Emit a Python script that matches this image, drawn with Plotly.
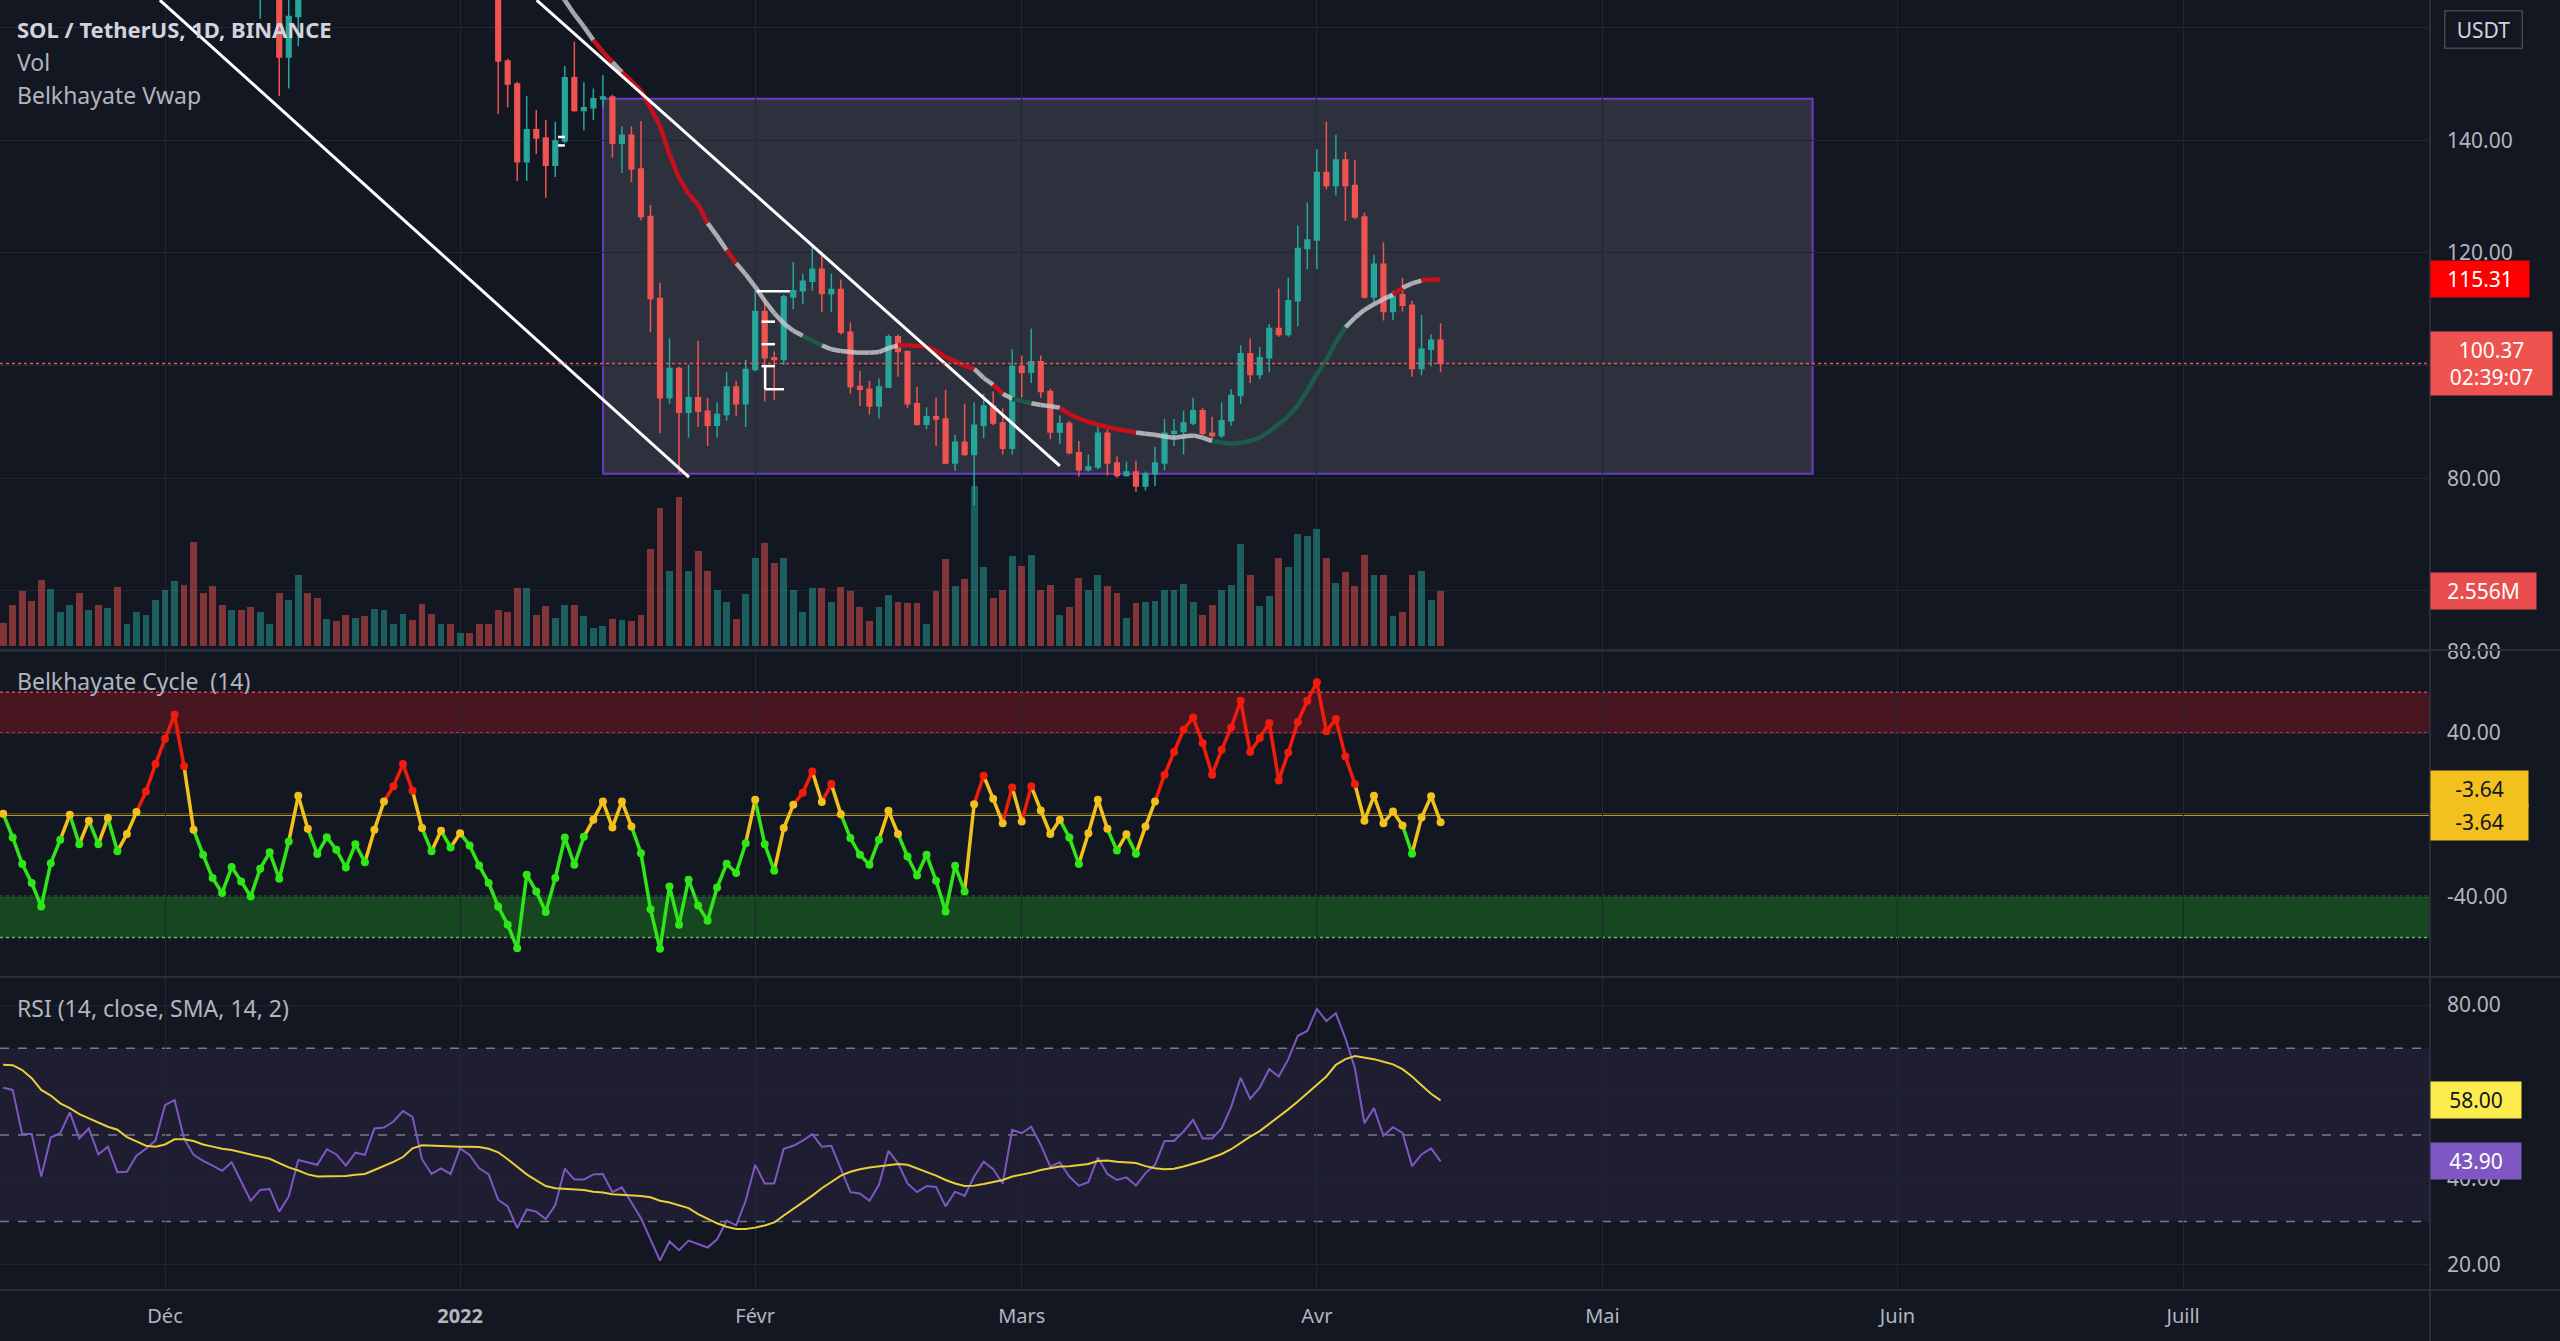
import plotly.graph_objects as go
import pandas as pd

# ---------------- data ----------------
dates = pd.date_range("2021-11-14", periods=152, freq="D")

opens = [236, 231, 228, 212, 210, 196, 213, 216, 225, 213, 217, 206, 210, 193, 197, 203, 208,
         215, 232, 235, 226, 204, 196, 190, 186, 192, 180, 171, 178, 180, 154.8, 162, 176, 172, 169, 173, 171,
         168.5, 180, 177, 186, 188, 193, 195, 193, 176, 171, 176,
         170, 178, 176, 170, 168, 154.1, 150.0, 136.2, 141.9, 140.4, 135.6, 139.9, 151.1, 145.3, 145.8, 147.4,
         147.7, 139.5, 140.9, 134.9, 126.5, 111.9, 94.3, 99.5, 91.7, 94.3, 91.9, 89.4, 91.3, 96.2, 93.2,
         99.3, 109.6, 101.4, 101.1, 112.2, 113.3, 115.0, 117.1, 112.8, 113.5, 105.9, 96.3, 95.8, 92.8, 96.2,
         105.1, 102.5, 93.2, 89.6, 90.9, 90.5, 82.7, 86.4, 84.2, 89.4, 92.8, 89.8, 85.3,
         99.9, 98.8, 100.7, 95.4, 88.2, 89.7, 84.5, 81.5, 82.0, 88.0, 82.7, 80.5, 81.1, 78.6, 80.8, 82.7,
         88.0, 88.3, 89.8, 92.0, 88.0, 87.6, 90.2, 94.7, 102.1, 98.4, 101.4, 106.6, 105.5, 111.5, 120.8,
         122.3, 134.3, 132.0, 136.5, 132.0, 126.4, 112.2, 118.0, 109.6, 112.6, 110.7, 99.5, 102.9, 104.5]
highs = [241, 238, 230, 220, 216, 216, 220, 229, 227, 222, 219, 214, 213, 201, 205, 214, 218,
         236, 240, 238, 228, 210, 199, 196, 196, 194, 188, 181, 185, 182, 167.5, 178, 182, 176, 176, 180, 174,
         182, 184, 188, 193, 196, 199, 203, 194, 181, 178, 181,
         180, 180, 178, 174, 171, 154.5, 150.4, 147.9, 145.4, 143.6, 143.3, 153.2, 157.5, 150.3, 149.2, 151.6,
         148.1, 142.5, 142.5, 143.4, 128.5, 114.7, 104.8, 99.8, 100.1, 104.4, 94.3, 93.5, 98.8, 97.3, 101.0,
         113.3, 111.9, 102.5, 112.6, 118.4, 116.3, 121.6, 120.0, 116.3, 115.3, 107.7, 99.1, 97.3, 97.7, 105.5,
         105.5, 102.6, 96.2, 92.6, 94.3, 95.7, 87.7, 93.2, 93.5, 95.0, 95.4, 92.4, 102.9,
         101.8, 106.6, 101.8, 95.9, 91.2, 90.1, 86.6, 84.2, 89.4, 88.7, 83.9, 82.9, 83.1, 81.2, 85.6, 90.5,
         90.5, 92.0, 94.3, 92.5, 90.9, 93.5, 95.8, 103.6, 104.8, 103.3, 107.4, 113.7, 115.6, 124.9, 129.0,
         138.4, 143.3, 141.0, 138.0, 136.5, 127.2, 119.7, 121.9, 113.3, 115.6, 111.5, 109.0, 105.5, 107.5]
lows = [229, 226, 205, 203, 193, 193, 210, 214, 210, 206, 201, 203, 190, 192, 188, 201, 204,
        213, 226, 222, 180, 190, 178, 183, 181, 176, 168, 161.6, 172, 147.9, 149.2, 156.7, 170, 167, 167.5, 169, 167,
        168, 175, 174, 185, 186, 187, 190, 174, 168, 168, 168,
        169, 173, 168, 167, 144.7, 145.9, 132.8, 132.8, 137.6, 129.8, 133.5, 139.5, 145.1, 141.8, 143.6, 145.9,
        136.9, 134.2, 132.6, 125.8, 105.9, 88.0, 93.2, 80.9, 87.2, 89.1, 85.7, 87.2, 90.2, 91.0, 89.1,
        99.0, 93.6, 93.9, 100.1, 110.0, 111.0, 113.3, 109.5, 109.5, 105.5, 95.0, 92.8, 91.3, 90.6, 96.0,
        98.0, 92.4, 89.3, 88.7, 85.7, 82.5, 81.3, 84.0, 75.2, 87.1, 89.4, 84.2, 84.2,
        94.3, 96.9, 94.3, 86.9, 86.1, 84.2, 80.3, 81.2, 81.6, 80.5, 80.1, 80.3, 77.6, 77.8, 78.6, 81.4,
        85.7, 84.2, 89.4, 87.6, 86.6, 87.2, 89.3, 93.2, 96.9, 97.6, 98.8, 105.1, 105.1, 107.0, 117.1,
        117.1, 131.3, 130.2, 125.7, 126.0, 111.9, 110.8, 108.0, 108.1, 109.6, 98.0, 98.3, 99.9, 98.8]
closes = [231, 228, 212, 210, 196, 213, 216, 225, 213, 217, 206, 210, 193, 197, 203, 208, 215,
          232, 235, 226, 204, 196, 190, 186, 192, 180, 171, 178, 180, 154.8, 162, 176, 172, 169, 173, 171, 168.5,
          180, 177, 186, 188, 193, 195, 193, 176, 171, 176, 170,
          178, 176, 170, 168, 154.1, 150.0, 136.2, 141.9, 140.4, 135.6, 139.9, 151.1, 145.3, 145.8, 147.4, 147.7,
          139.5, 140.9, 134.9, 126.5, 111.9, 94.3, 99.5, 91.7, 94.3, 91.9, 89.4, 91.3, 96.2, 93.2, 99.3,
          109.6, 101.4, 101.1, 112.2, 113.3, 115.0, 117.1, 112.8, 113.5, 105.9, 96.3, 95.8, 92.8, 96.2, 105.1,
          102.5, 93.2, 89.6, 90.9, 90.5, 82.7, 86.4, 84.2, 89.4, 92.8, 89.8, 85.3, 99.9,
          98.8, 100.7, 95.4, 88.2, 89.7, 84.5, 81.5, 82.0, 88.0, 82.7, 80.5, 81.1, 78.6, 80.8, 82.7, 88.0,
          88.3, 89.8, 92.0, 88.0, 87.6, 90.2, 94.7, 102.1, 98.4, 101.4, 106.6, 105.5, 111.5, 120.8, 122.3,
          134.3, 132.0, 136.5, 132.0, 126.4, 112.2, 118.0, 109.6, 112.6, 110.7, 99.5, 102.9, 104.5, 100.37]

volumes_m = [1.08, 1.93, 2.56, 2.10, 3.09, 2.65, 1.57, 1.91, 2.46, 1.67, 1.91, 1.77, 2.75, 1.02, 1.57, 1.44, 2.16,
             2.61, 3.05, 2.85, 4.86, 2.46, 2.81, 1.93, 1.67, 1.67, 1.83, 1.57, 1.02, 2.46, 2.16, 3.34, 2.46, 2.26,
             1.24, 1.18, 1.44, 1.32, 1.38, 1.71, 1.67, 1.02, 1.51, 1.22, 1.97, 1.51, 1.02, 1.02,
             0.63, 0.63, 1.02, 1.02, 1.67, 1.57, 2.69, 2.69, 1.44, 1.87, 1.32, 1.91, 1.93, 1.38, 0.83, 0.92,
             1.28, 1.22, 1.18, 1.47, 4.52, 6.43, 3.50, 6.98, 3.50, 4.46, 3.50, 2.60, 2.06, 1.24, 2.42,
             4.13, 4.82, 3.87, 4.13, 2.61, 1.57, 2.69, 2.69, 2.06, 2.75, 2.56, 1.81, 1.18, 1.81, 2.36,
             2.06, 2.01, 2.01, 1.04, 2.56, 4.07, 2.81, 3.15, 7.47, 3.68, 2.26, 2.60, 4.19,
             3.74, 4.27, 2.60, 2.85, 1.44, 1.83, 3.20, 2.60, 3.34, 2.81, 2.46, 1.32, 2.01, 2.06, 2.10, 2.61,
             2.61, 2.91, 2.06, 1.47, 1.93, 2.61, 2.85, 4.76, 3.34, 1.87, 2.32, 4.09, 3.70, 5.21, 5.15,
             5.47, 4.13, 2.95, 3.44, 2.81, 4.23, 3.34, 3.30, 1.38, 1.57, 3.30, 3.50, 2.16, 2.556]

cycle_vals = [0.5, -11.1, -24.1, -33.4, -44.9, -23.7, -12.2, 0.0, -14.4, -2.9, -14.4, -1.6, -17.9, -9.4, 1.3, 11.4, 24.8,
              37.2, 48.9, 23.7, -7.3, -19.6, -31.0, -38.3, -25.6, -32.6, -40.0, -26.4, -18.4, -31.3, -13.1, 9.3,
              -6.9, -19.2, -11.0, -17.1, -25.8, -14.4, -23.2, -7.3, 6.5, 13.9, 24.8, 11.7, -6.5, -17.9, -7.8, -16.0,
              -9.0, -15.0, -24.8, -33.4, -44.9, -53.8, -65.3,
              -29.4, -37.5, -47.6, -31.0, -11.1, -24.5, -10.8, -2.4, 6.5, -6.2, 6.5, -5.7, -18.8, -46.2, -65.6,
              -35.1, -53.8, -31.8, -44.4, -51.9, -35.6, -24.0, -28.5, -13.9,
              7.3, -14.4, -27.4, -6.5, 4.9, 10.8, 21.2, 6.2, 15.0, 0.3, -11.4, -19.6, -24.5, -12.2, 2.0, -9.4,
              -20.4, -29.7, -19.6, -32.3, -47.3, -25.0, -37.5, 5.2, 19.1, 7.8, -4.1, 13.4,
              -3.3, 13.9, 2.1, -9.4, -2.4, -11.1, -24.1, -9.0, 7.3, -6.9, -17.5, -9.5, -19.1, -5.7, 6.5, 19.6,
              30.7, 41.6, 47.6, 35.1, 19.6, 31.8, 42.7, 55.8, 30.7, 37.5, 44.9, 16.8, 30.5, 45.4, 55.8,
              64.8, 40.8, 46.8, 28.5, 15.0, -2.9, 9.3, -4.1, 1.6, -5.2, -19.1, -1.3, 9.0, -3.64]

rsi_vals = [60.9, 60.4, 50.2, 50.2, 40.4, 49.4, 50.4, 55.2, 49.2, 51.5, 45.5, 47.3, 41.4, 41.5, 45.2, 46.8, 48.7,
            56.9, 58.1, 49.2, 45.4, 44.0, 42.9, 41.7, 43.7, 39.2, 34.8, 37.3, 37.5, 32.3, 35.8, 44.2, 43.7, 43.1,
            46.7, 45.5, 42.9, 45.9, 45.4, 51.5, 51.7, 53.1, 55.5, 54.2, 44.4, 41.0, 42.3, 41.0,
            46.9, 45.4, 42.3, 40.9, 35.0, 33.5, 28.5,
            32.8, 32.3, 30.6, 33.8, 42.2, 39.7, 39.7, 40.9, 41.0, 36.8, 37.9, 34.4, 30.8, 25.9, 21.0, 25.4,
            23.4, 25.6, 24.8, 24.0, 25.9, 30.2, 29.1, 34.8, 43.1, 38.8, 38.8, 46.8, 47.5, 48.7, 50.2, 47.3,
            47.5, 42.3, 36.8, 36.5, 34.8, 38.5, 46.3, 43.5, 38.8, 36.8, 38.2, 38.0, 33.5, 36.9, 35.9, 40.4,
            43.8, 42.1, 38.8, 51.2,
            50.4, 51.9, 47.7, 42.7, 43.7, 40.4, 38.3, 39.1, 44.8, 41.0, 39.6, 40.2, 38.3, 41.2, 43.1, 48.6,
            48.6, 50.8, 53.5, 49.2, 49.2, 51.5, 56.5, 63.2, 58.3, 60.9, 65.2, 63.5, 67.5, 72.9, 74.0,
            79.1, 76.3, 78.1, 72.3, 65.4, 52.7, 56.2, 49.8, 51.8, 50.5, 42.8, 45.5, 46.9, 43.9]

rsi_ma_vals = [66.2, 66.1, 65.0, 63.1, 60.4, 59.1, 57.3, 56.2, 54.8, 53.8, 52.8, 51.9, 51.2, 49.5, 48.5, 47.5, 47.3,
               47.8, 49.0, 49.0, 48.6, 47.8, 47.3, 46.8, 46.5, 46.0, 45.5, 45.0, 44.5, 43.5, 42.5, 41.8, 40.9, 40.4,
               40.4, 40.5, 40.5, 40.8, 41.0, 41.9, 42.8, 43.8, 44.9, 46.9, 47.6, 47.5, 47.4, 47.3,
               47.3, 47.3, 47.2, 46.8, 46.0, 44.4, 42.7,
               40.9, 39.5, 38.2, 37.7, 37.6, 37.5, 37.3, 36.9, 36.7, 36.3, 36.2, 36.0, 35.9, 35.6, 34.8, 34.4,
               33.8, 33.1, 31.7, 30.6, 29.6, 28.8, 28.3, 28.3, 28.6, 29.1, 29.8, 31.4, 32.9, 34.5, 36.0, 37.7,
               39.1, 40.6, 41.5, 42.1, 42.5, 42.8, 43.0, 43.3, 43.1, 42.3, 41.5, 40.6, 39.6, 38.8, 38.2, 38.3,
               38.7, 39.1, 39.6, 40.4,
               40.8, 41.3, 41.9, 42.3, 42.7, 42.8, 43.1, 43.3, 44.0, 44.1, 43.8, 43.6, 43.5, 42.8, 42.3, 42.1,
               42.2, 42.7, 43.3, 44.0, 44.8, 45.6, 46.7, 48.2, 49.6, 50.9, 52.5, 54.2, 55.9, 57.7, 59.6,
               61.4, 63.5, 66.2, 67.5, 68.2, 67.9, 67.5, 66.9, 66.3, 65.2, 63.5, 61.5, 59.5, 58.0]

vwap_start = 55
vwap_vals = [176, 173, 170, 167.3, 164.9, 162.4, 160.2, 157.8, 155.7, 153.9, 152.1, 150.5, 148.8, 145.8, 142.5,
             137.5, 133.3, 130.5, 128.6, 125.3, 123.0, 120.5, 118.2, 116.2, 114.0, 111.5, 109.3, 107.5, 106.2,
             105.3, 104.4, 103.6, 102.9, 102.6, 102.4, 102.3, 102.3, 102.4, 103.1, 103.6, 103.6, 103.5, 103.3,
             102.6, 101.5, 100.7, 100.0, 99.4, 97.8, 96.6, 95.0, 94.1, 93.7, 93.3, 93.0, 92.8, 92.5, 91.4, 90.6,
             90.0, 89.5, 89.1, 88.7, 88.4, 88.1, 87.9, 87.7, 87.4, 87.2, 87.4, 87.6, 87.2, 86.6, 86.3, 86.1, 86.3,
             86.6, 87.2, 88.3, 89.6, 91.0, 92.9, 95.6, 98.5, 101.0, 104.2, 106.8, 108.5, 109.9, 110.9, 111.8,
             112.6, 113.8, 114.6, 115.1, 115.3, 115.31]
vwap_states = ("W" + "WWWWWWW" + "RRW" + "RRRRRRRRR" + "WWR" + "WWWWWWW" + "DD" + "WWWWWWWW" + "RRRRRRRR"
               + "WWRW" + "DD" + "WWW" + "RRRRRRRR" + "WWWWWWWW" + "DDDDDDDDDDDDDD" + "WWWWW" + "R" + "WW" + "RR")

# drawings (data coordinates: date, price)
box_x = ["2022-01-16 00:30", "2022-05-23 02:00"]
box_y = [80.8, 147.4]
trend_upper_x = ["2022-01-09 01:00", "2022-03-05 00:00"]
trend_upper_y = [164.9, 82.2]
trend_lower_x = ["2021-11-30 11:00", "2022-01-25 01:00"]
trend_lower_y = [164.9, 80.2]
white_marks = [  # (x0, x1, y0, y1)
    ("2022-02-01 04:00", "2022-02-04 15:30", 113.2, 113.2),
    ("2022-02-01 16:00", "2022-02-03 02:00", 107.8, 107.8),
    ("2022-02-01 16:00", "2022-02-03 02:00", 103.8, 103.8),
    ("2022-02-01 16:00", "2022-02-03 02:00", 99.9, 99.9),
    ("2022-02-02 01:00", "2022-02-02 01:00", 99.9, 95.8),
    ("2022-02-02 01:00", "2022-02-04 00:30", 95.8, 95.8),
    ("2022-01-11 07:00", "2022-01-12 00:00", 140.6, 140.6),
    ("2022-01-11 07:00", "2022-01-12 00:00", 139.1, 139.1),
]

month_ticks = ["2021-12-01", "2022-01-01", "2022-02-01", "2022-03-01", "2022-04-01",
               "2022-05-01", "2022-06-01", "2022-07-01"]
month_labels = ["Déc", "<b>2022</b>", "Févr", "Mars", "Avr", "Mai", "Juin", "Juill"]

price_ticks = [60, 80, 100, 120, 140, 160]
price_tick_text = ["", "80.00", "", "120.00", "140.00", ""]
cycle_ticks = [-40, 0, 40, 80]
cycle_tick_text = ["-40.00", "", "40.00", "80.00"]
rsi_ticks = [20, 40, 60, 80]
rsi_tick_text = ["20.00", "40.00", "", "80.00"]

last_price = 100.37
countdown = "02:39:07"
vwap_last = 115.31
vol_last = "2.556M"
cycle_last = -3.64
rsi_last = 43.90
rsi_ma_last = 58.00

n = len(dates)
for arr in (opens, highs, lows, closes, volumes_m, cycle_vals, rsi_vals, rsi_ma_vals):
    assert len(arr) == n, len(arr)
assert len(vwap_vals) == n - vwap_start == len(vwap_states)

# ---------------- style ----------------
BG = "#131722"
GRID = "#222632"
TXT = "#b2b5be"
UP = "#26a69a"
DN = "#ef5350"
FONT = "Noto Sans"
x_range = ["2021-11-13 16:00", "2022-07-26 22:30"]

fig = go.Figure()

# volume (overlay on price pane)
vol_colors = ["rgba(38,166,154,0.5)" if c >= o else "rgba(239,83,80,0.5)" for o, c in zip(opens, closes)]
fig.add_trace(go.Bar(x=dates, y=volumes_m, marker=dict(color=vol_colors, line=dict(width=0)),
                     width=0.72 * 86400000, xaxis="x", yaxis="y2"))

# candles
fig.add_trace(go.Candlestick(
    x=dates, open=opens, high=highs, low=lows, close=closes, xaxis="x", yaxis="y",
    increasing=dict(line=dict(color=UP, width=1.5), fillcolor=UP),
    decreasing=dict(line=dict(color=DN, width=1.5), fillcolor=DN),
    whiskerwidth=0))

# vwap multi-coloured line
vwap_dates = list(dates[vwap_start:])
vcol = {"W": "rgba(205,205,210,0.8)", "R": "#c4111a", "D": "#1d5b49"}
for st, col in vcol.items():
    xs, ys = [], []
    for i in range(1, len(vwap_vals)):
        if vwap_states[i] == st:
            xs += [vwap_dates[i - 1], vwap_dates[i], None]
            ys += [vwap_vals[i - 1], vwap_vals[i], None]
    fig.add_trace(go.Scatter(x=xs, y=ys, mode="lines", line=dict(color=col, width=4.5),
                             xaxis="x", yaxis="y"))

# cycle
def cyc_state(v):
    return "R" if v > 10 else ("G" if v < -10 else "Y")

ccol = {"R": "#f21c0d", "Y": "#f2c11d", "G": "#2fe619"}
for st, col in ccol.items():
    xs, ys = [], []
    for i in range(1, n):
        if cyc_state(cycle_vals[i]) == st:
            xs += [dates[i - 1], dates[i], None]
            ys += [cycle_vals[i - 1], cycle_vals[i], None]
    fig.add_trace(go.Scatter(x=xs, y=ys, mode="lines", line=dict(color=col, width=3.5),
                             xaxis="x2", yaxis="y3"))
fig.add_trace(go.Scatter(x=dates, y=cycle_vals, mode="markers",
                         marker=dict(size=8, color=[ccol[cyc_state(v)] for v in cycle_vals]),
                         xaxis="x2", yaxis="y3"))

# rsi
fig.add_trace(go.Scatter(x=dates, y=rsi_vals, mode="lines", line=dict(color="#7e57c2", width=2),
                         xaxis="x3", yaxis="y4"))
fig.add_trace(go.Scatter(x=dates, y=rsi_ma_vals, mode="lines", line=dict(color="#e9cf3a", width=2),
                         xaxis="x3", yaxis="y4"))

# ---------------- shapes ----------------
shapes = []
shapes.append(dict(type="rect", xref="x", yref="y", x0=box_x[0], x1=box_x[1], y0=box_y[0], y1=box_y[1],
                   fillcolor="rgba(150,152,168,0.2)", line=dict(color="#6a3cc8", width=2), layer="below"))
for xx, yy in ((trend_upper_x, trend_upper_y), (trend_lower_x, trend_lower_y)):
    shapes.append(dict(type="line", xref="x", yref="y", x0=xx[0], x1=xx[1], y0=yy[0], y1=yy[1],
                       line=dict(color="#ffffff", width=3)))
for x0, x1, y0, y1 in white_marks:
    shapes.append(dict(type="line", xref="x", yref="y", x0=x0, x1=x1, y0=y0, y1=y1,
                       line=dict(color="#ffffff", width=2.5)))
shapes.append(dict(type="line", xref="paper", yref="y", x0=0, x1=1, y0=last_price, y1=last_price,
                   line=dict(color=DN, width=1.5, dash="dot")))
# cycle bands
shapes.append(dict(type="rect", xref="paper", yref="y3", x0=0, x1=1, y0=40, y1=60,
                   fillcolor="rgba(170,20,30,0.35)", line=dict(width=0), layer="below"))
shapes.append(dict(type="rect", xref="paper", yref="y3", x0=0, x1=1, y0=-60, y1=-40,
                   fillcolor="rgba(30,160,30,0.35)", line=dict(width=0), layer="below"))
for v, c in ((60, "#e8404a"), (40, "#e8404a"), (-40, "#5cbf5c"), (-60, "#5cbf5c")):
    shapes.append(dict(type="line", xref="paper", yref="y3", x0=0, x1=1, y0=v, y1=v,
                       line=dict(color=c, width=1.5, dash="dot"), layer="below"))
shapes.append(dict(type="line", xref="paper", yref="y3", x0=0, x1=1, y0=0, y1=0,
                   line=dict(color="#f2c11d", width=2), layer="below"))
# rsi band
shapes.append(dict(type="rect", xref="paper", yref="y4", x0=0, x1=1, y0=30, y1=70,
                   fillcolor="rgba(126,87,194,0.1)", line=dict(width=0), layer="below"))
for v in (70, 50, 30):
    shapes.append(dict(type="line", xref="paper", yref="y4", x0=0, x1=1, y0=v, y1=v,
                       line=dict(color="#787b86", width=1.5, dash="dash"), layer="below"))
# pane separators / borders
D1, D2 = 0.4961, 0.2426
for yv in (D1, D2, 0):
    shapes.append(dict(type="line", xref="paper", yref="paper", x0=0, x1=1.06, y0=yv, y1=yv,
                       line=dict(color="#2a2e39", width=2)))
shapes.append(dict(type="line", xref="paper", yref="paper", x0=1, x1=1, y0=-0.05, y1=1,
                   line=dict(color="#2a2e39", width=2)))

# ---------------- annotations ----------------
ann = []
def title(text, y, color=TXT, size=23):
    ann.append(dict(xref="paper", yref="paper", x=0.006, y=y, xanchor="left", yanchor="middle",
                    text=text, showarrow=False, font=dict(family=FONT, size=size, color=color)))

title("<b>SOL / TetherUS, 1D, BINANCE</b>", 0.9775, "#d1d4dc", 22)
title("Vol", 0.9519)
title("Belkhayate Vwap", 0.9264)
title("Belkhayate Cycle\u00a0 (14)", 0.4721)
title("RSI (14, close, SMA, 14, 2)", 0.2186)

def axis_label(text, yref, y, bg, fg, width, yshift=0):
    ann.append(dict(xref="paper", yref=yref, x=1, y=y, xanchor="left", yanchor="middle", text=text,
                    showarrow=False, bgcolor=bg, borderpad=4, width=width, align="center", yshift=yshift,
                    font=dict(family=FONT, size=21, color=fg)))

axis_label(f"{vwap_last:.2f}", "y", vwap_last, "#ff0000", "#ffffff", 90)
axis_label(f"{last_price:.2f}<br>{countdown}", "y", last_price, "#ef5350", "#ffffff", 113)
axis_label(vol_last, "y2", volumes_m[-1], "#e84e4e", "#ffffff", 97)
axis_label(f"{cycle_last:.2f}", "y3", cycle_last, "#f2c11d", "#131722", 89, yshift=33)
axis_label(f"{cycle_last:.2f}", "y3", cycle_last, "#f2c11d", "#131722", 89)
axis_label(f"{rsi_ma_last:.2f}", "y4", rsi_ma_last, "#fbeb4c", "#131722", 82)
axis_label(f"{rsi_last:.2f}", "y4", rsi_last, "#7e57c2", "#ffffff", 82)
ann.append(dict(xref="paper", yref="paper", x=1, y=0.9775, xanchor="left", yanchor="middle", xshift=14,
                text="USDT", showarrow=False, bgcolor=BG, bordercolor="#434651", borderwidth=1.5,
                borderpad=4, width=68, font=dict(family=FONT, size=21, color="#d1d4dc")))

# ---------------- layout ----------------
xcommon = dict(type="date", range=x_range, tickvals=month_ticks, ticktext=month_labels, showgrid=True,
               gridcolor=GRID, gridwidth=1, zeroline=False, showline=False, ticks="", automargin=False,
               rangeslider=dict(visible=False), fixedrange=True)
ycommon = dict(side="right", showgrid=True, gridcolor=GRID, zeroline=False, showline=False, ticks="",
               automargin=False, ticklabelstandoff=16, tickfont=dict(family=FONT, size=21, color=TXT),
               fixedrange=True)

fig.update_layout(
    width=2560, height=1341, autosize=False,
    margin=dict(l=0, r=130, t=0, b=51, pad=0, autoexpand=False),
    paper_bgcolor=BG, plot_bgcolor=BG,
    showlegend=False, hovermode=False,
    font=dict(family=FONT, color=TXT),
    xaxis=dict(xcommon, anchor="y", showticklabels=False),
    xaxis2=dict(xcommon, anchor="y3", showticklabels=False),
    xaxis3=dict(xcommon, anchor="y4", showticklabels=True, ticklabelstandoff=12,
                tickfont=dict(family=FONT, size=20, color=TXT)),
    yaxis=dict(ycommon, domain=[D1, 1], range=[49.48, 164.93], tickvals=price_ticks, ticktext=price_tick_text),
    yaxis2=dict(overlaying="y", range=[-0.187, 30.17], visible=False, fixedrange=True, automargin=False),
    yaxis3=dict(ycommon, domain=[D2, D1], range=[-79.4, 80.6], tickvals=cycle_ticks, ticktext=cycle_tick_text),
    yaxis4=dict(ycommon, domain=[0, D2], range=[14.2, 86.46], tickvals=rsi_ticks, ticktext=rsi_tick_text),
    shapes=shapes, annotations=ann, bargap=0,
)

fig.write_html(
    "out.html",
    config={"displayModeBar": False},
    post_script=("document.body.style.margin='0';document.body.style.padding='0';"
                 "document.body.style.overflow='hidden';document.body.style.background='#131722';"
                 "var gd=document.getElementById('{plot_id}');gd.style.position='fixed';"
                 "gd.style.top='0';gd.style.left='0';"),
)
